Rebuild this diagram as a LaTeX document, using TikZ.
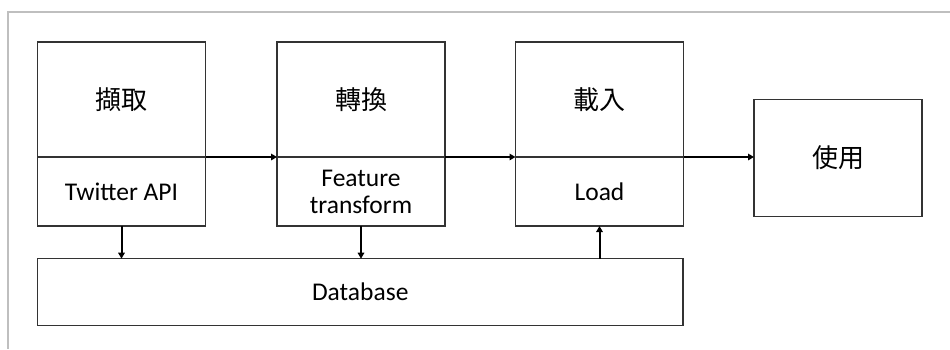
\documentclass[tikz,border=0pt]{standalone}
\usepackage{fontspec}
\setmainfont{Carlito}
\newfontfamily\cjk{Noto Sans CJK TC}
\usepackage{tikz}
\usetikzlibrary{arrows.meta,positioning}

\begin{document}
\begin{tikzpicture}[
    x=1pt, y=-1pt,
    box/.style={draw=black!80, line width=1.1pt, rectangle, outer sep=0, inner sep=0,
        minimum width=168pt, align=center},
    head/.style={box, minimum height=115pt, font=\cjk\fontsize{26}{30}\selectfont},
    sub/.style={box, minimum height=69pt, font=\fontsize{25.5}{27}\selectfont},
    flow/.style={line width=2pt, -{Triangle[length=6pt,width=6.5pt]}}]
\useasboundingbox (0,0) rectangle (950,349);
\draw[black!25, line width=1.5pt] (950,12) -- (8,12) -- (8,349);

% pipeline stages
\node[head] (EXT) at (121.5,99.5) {擷取};
\node[sub, below=0pt of EXT] (EXTs) {Twitter API};
\node[head] (TRN) at (361,99.5) {轉換};
\node[sub, below=0pt of TRN] (TRNs) {Feature\\transform};
\node[head] (LOD) at (599.5,99.5) {載入};
\node[sub, below=0pt of LOD] (LODs) {Load};
\node[box, minimum height=117pt, font=\cjk\fontsize{26}{30}\selectfont] (USE) at (838,158) {使用};

\node[box, minimum width=645.5pt, minimum height=67pt, font=\fontsize{25.5}{27}\selectfont]
    (DB) at (360.25,292.2) {Database};

\draw[flow] (EXT.south east) -- (TRN.south west);
\draw[flow] (TRN.south east) -- (LOD.south west);
\draw[flow] (LOD.south east) -- (LOD.south east -| USE.west);

\draw[flow] (EXTs.south) -- (EXTs.south |- DB.north);
\draw[flow] (TRNs.south) -- (TRNs.south |- DB.north);
\draw[flow] (LODs.south |- DB.north) -- (LODs.south);

\end{tikzpicture}
\end{document}
